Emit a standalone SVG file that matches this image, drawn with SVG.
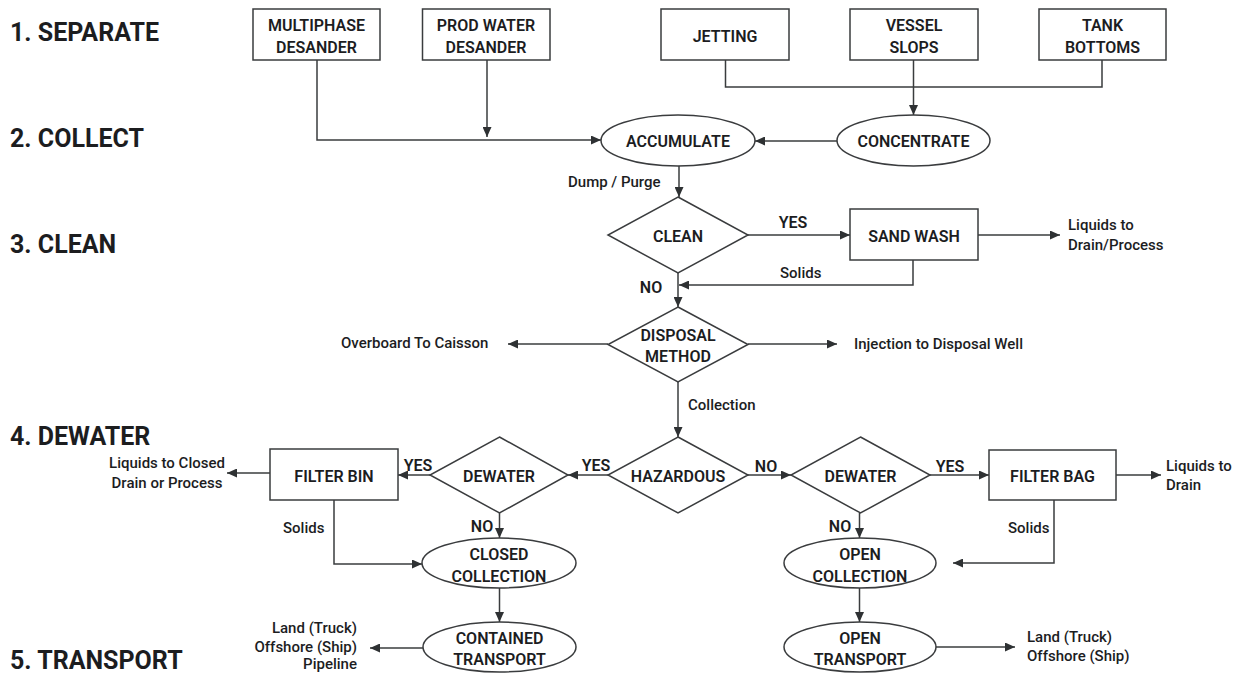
<svg xmlns="http://www.w3.org/2000/svg" width="1238" height="673" viewBox="0 0 1238 673">
<defs>
<marker id="ah" markerUnits="userSpaceOnUse" markerWidth="11" markerHeight="9" refX="10" refY="4.5" orient="auto">
<path d="M0,0 L10,4.5 L0,9 z" fill="#2e3133"/>
</marker>
<style>
.shape{fill:#fff;stroke:#3a3c3e;stroke-width:1.5}
.conn{fill:none;stroke:#3a3c3e;stroke-width:1.5}
.arr{marker-end:url(#ah)}
text{font-family:Roboto,"Liberation Sans",sans-serif;fill:#1c1d1f}
.nl{font-size:16px;font-weight:600;text-anchor:middle;dominant-baseline:central}
.cl{font-size:15px;font-weight:500;dominant-baseline:central}
.yn{font-size:16px;font-weight:600;text-anchor:middle;dominant-baseline:central}
.hd{font-size:25px;font-weight:700}
</style>
</defs>
<rect width="1238" height="673" fill="#fff"/>

<g id="headings">
<text class="hd" x="10" y="41">1. SEPARATE</text>
<text class="hd" x="10" y="147">2. COLLECT</text>
<text class="hd" x="10" y="253">3. CLEAN</text>
<text class="hd" x="10" y="445">4. DEWATER</text>
<text class="hd" x="10" y="669">5. TRANSPORT</text>
</g>

<g id="connectors">
<path class="conn arr" d="M317,60 V140 H601"/>
<path class="conn arr" d="M487,60 V137"/>
<path class="conn" d="M725.5,60 V87 H1102 V60"/>
<path class="conn arr" d="M913.5,60 V115"/>
<path class="conn arr" d="M837,141 H755"/>
<path class="conn arr" d="M679,166 V197"/>
<path class="conn arr" d="M748,235 H850"/>
<path class="conn arr" d="M978,235 H1060"/>
<path class="conn arr" d="M913,260 V285 H679"/>
<path class="conn arr" d="M678,273 V307"/>
<path class="conn arr" d="M608,344 H508"/>
<path class="conn arr" d="M748,344 H837"/>
<path class="conn arr" d="M678,382 V437"/>
<path class="conn arr" d="M608,475 H568"/>
<path class="conn arr" d="M430,475 H398"/>
<path class="conn arr" d="M270,473 H227"/>
<path class="conn arr" d="M334,500 V564 H422"/>
<path class="conn arr" d="M499.5,513 V538"/>
<path class="conn arr" d="M499.5,588 V622"/>
<path class="conn arr" d="M423,648 H370"/>
<path class="conn arr" d="M748,475 H791"/>
<path class="conn arr" d="M930,475 H989"/>
<path class="conn arr" d="M1116,475 H1161"/>
<path class="conn arr" d="M1054,500 V563 H953"/>
<path class="conn arr" d="M859.5,513 V538"/>
<path class="conn arr" d="M859.5,588 V622"/>
<path class="conn arr" d="M936,647 H1015"/>
</g>

<g id="connector-labels">
<text class="cl" x="568" y="182">Dump / Purge</text>
<text class="yn" x="793" y="222">YES</text>
<text class="cl" x="780" y="273">Solids</text>
<text class="yn" x="651" y="287">NO</text>
<text class="cl" x="1068" y="225">Liquids to</text>
<text class="cl" x="1068" y="245">Drain/Process</text>
<text class="cl" x="341" y="343">Overboard  To Caisson</text>
<text class="cl" x="854" y="344">Injection to Disposal Well</text>
<text class="cl" x="688" y="405">Collection</text>
<text class="yn" x="596" y="465">YES</text>
<text class="yn" x="418" y="465">YES</text>
<text class="yn" x="482" y="526">NO</text>
<text class="cl" x="283" y="528">Solids</text>
<text class="cl" x="167" y="463" text-anchor="middle">Liquids to Closed</text>
<text class="cl" x="167" y="483" text-anchor="middle">Drain or Process</text>
<text class="cl" x="357" y="628" text-anchor="end">Land (Truck)</text>
<text class="cl" x="357" y="647" text-anchor="end">Offshore (Ship)</text>
<text class="cl" x="357" y="664" text-anchor="end">Pipeline</text>
<text class="yn" x="766" y="466">NO</text>
<text class="yn" x="950" y="466">YES</text>
<text class="yn" x="840" y="526">NO</text>
<text class="cl" x="1008" y="528">Solids</text>
<text class="cl" x="1166" y="466">Liquids to</text>
<text class="cl" x="1166" y="485">Drain</text>
<text class="cl" x="1027" y="637">Land (Truck)</text>
<text class="cl" x="1027" y="656">Offshore (Ship)</text>
</g>

<g id="multiphase-desander">
<rect class="shape" x="253" y="9" width="127" height="51"/>
<text class="nl" x="316.5" y="25">MULTIPHASE</text>
<text class="nl" x="316.5" y="47">DESANDER</text>
</g>
<g id="prod-water-desander">
<rect class="shape" x="422.5" y="9" width="127.5" height="51"/>
<text class="nl" x="486" y="25">PROD WATER</text>
<text class="nl" x="486" y="47">DESANDER</text>
</g>
<g id="jetting">
<rect class="shape" x="661" y="9" width="128" height="51"/>
<text class="nl" x="725" y="36">JETTING</text>
</g>
<g id="vessel-slops">
<rect class="shape" x="850" y="9" width="128" height="51"/>
<text class="nl" x="914" y="25">VESSEL</text>
<text class="nl" x="914" y="47">SLOPS</text>
</g>
<g id="tank-bottoms">
<rect class="shape" x="1039" y="9" width="127" height="51"/>
<text class="nl" x="1102.5" y="25">TANK</text>
<text class="nl" x="1102.5" y="47">BOTTOMS</text>
</g>
<g id="accumulate">
<ellipse class="shape" cx="678" cy="140.5" rx="77" ry="25.5"/>
<text class="nl" x="678" y="141">ACCUMULATE</text>
</g>
<g id="concentrate">
<ellipse class="shape" cx="913.5" cy="140.5" rx="76.5" ry="25.5"/>
<text class="nl" x="913.5" y="141">CONCENTRATE</text>
</g>
<g id="clean">
<polygon class="shape" points="678,197 748,235 678,273 608,235"/>
<text class="nl" x="678" y="236">CLEAN</text>
</g>
<g id="sand-wash">
<rect class="shape" x="850" y="209" width="128" height="51"/>
<text class="nl" x="914" y="236">SAND WASH</text>
</g>
<g id="disposal-method">
<polygon class="shape" points="678,307 748,344.5 678,382 608,344.5"/>
<text class="nl" x="678" y="335">DISPOSAL</text>
<text class="nl" x="678" y="356">METHOD</text>
</g>
<g id="hazardous">
<polygon class="shape" points="678,437 748,475 678,513 608,475"/>
<text class="nl" x="678" y="476">HAZARDOUS</text>
</g>
<g id="dewater-left">
<polygon class="shape" points="499.5,437 568,475 499.5,513 430,475"/>
<text class="nl" x="499" y="476">DEWATER</text>
</g>
<g id="filter-bin">
<rect class="shape" x="270" y="449" width="128" height="51"/>
<text class="nl" x="334" y="476">FILTER BIN</text>
</g>
<g id="closed-collection">
<ellipse class="shape" cx="499" cy="563" rx="77" ry="25"/>
<text class="nl" x="499" y="554">CLOSED</text>
<text class="nl" x="499" y="576">COLLECTION</text>
</g>
<g id="contained-transport">
<ellipse class="shape" cx="499.5" cy="647" rx="76.5" ry="25"/>
<text class="nl" x="499.5" y="638">CONTAINED</text>
<text class="nl" x="499.5" y="659">TRANSPORT</text>
</g>
<g id="dewater-right">
<polygon class="shape" points="860.5,437 930,475 860.5,513 791,475"/>
<text class="nl" x="860.5" y="476">DEWATER</text>
</g>
<g id="filter-bag">
<rect class="shape" x="989" y="450" width="127" height="50"/>
<text class="nl" x="1052.5" y="476">FILTER BAG</text>
</g>
<g id="open-collection">
<ellipse class="shape" cx="860" cy="563" rx="76" ry="25"/>
<text class="nl" x="860" y="554">OPEN</text>
<text class="nl" x="860" y="576">COLLECTION</text>
</g>
<g id="open-transport">
<ellipse class="shape" cx="860" cy="647" rx="76" ry="25"/>
<text class="nl" x="860" y="638">OPEN</text>
<text class="nl" x="860" y="659">TRANSPORT</text>
</g>
</svg>
